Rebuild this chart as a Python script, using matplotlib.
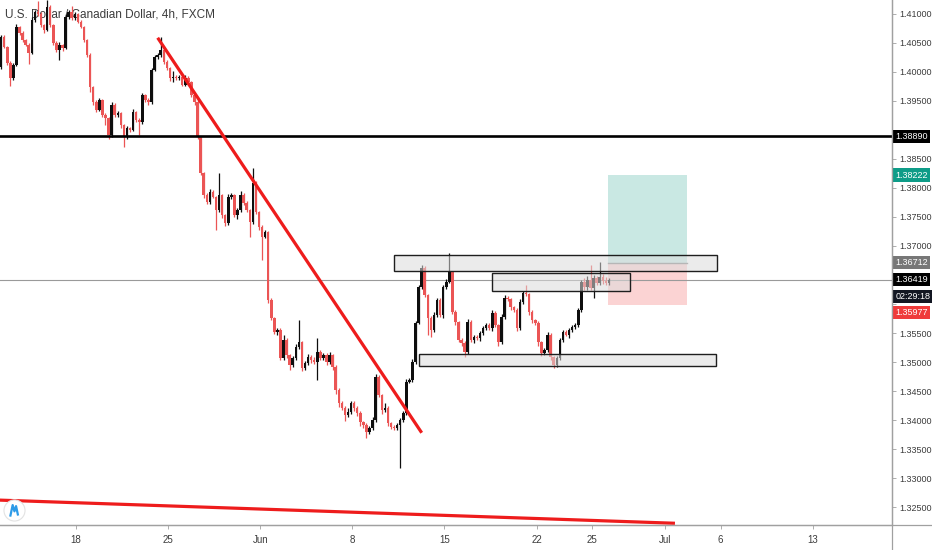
import matplotlib
matplotlib.use("Agg")
import matplotlib.pyplot as plt
import numpy as np
from matplotlib import font_manager
from matplotlib.patches import Rectangle

# ---- data (USDCAD 4h) ----
title = "U.S. Dollar / Canadian Dollar, 4h, FXCM"

first_open = 1.4009
closes = [
    # mid May -> early June
    1.4060, 1.4043, 1.4016, 1.3990, 1.4012, 1.4078, 1.4067, 1.4055, 1.4047, 1.4033,
    1.4090, 1.4103, 1.4100, 1.4081, 1.4072, 1.4112, 1.4081, 1.4050, 1.4038, 1.4047,
    1.4041, 1.4095, 1.4103, 1.4093, 1.4100, 1.4086, 1.4078, 1.4055, 1.4029, 1.3974,
    1.3948, 1.3935, 1.3952, 1.3926, 1.3921, 1.3891, 1.3943, 1.3926, 1.3929, 1.3909,
    1.3888, 1.3903, 1.3900, 1.3931, 1.3917, 1.3914, 1.3960, 1.3952, 1.3948, 1.4003,
    1.4026, 1.4029, 1.4038, 1.4017, 1.4007, 1.3990, 1.3991, 1.3990, 1.3991, 1.3978,
    1.3990, 1.3983, 1.3960, 1.3948, 1.3888, 1.3826, 1.3788, 1.3776, 1.3793, 1.3785,
    1.3762, 1.3788, 1.3753, 1.3740, 1.3785, 1.3788, 1.3753, 1.3762, 1.3788, 1.3774,
    1.3762, 1.3741, 1.3809, 1.3759, 1.3733, 1.3716, 1.3724,
    # June slide and bottom
    1.3607, 1.3576, 1.3552, 1.3555, 1.3507, 1.3538, 1.3512, 1.3495, 1.3507, 1.3526,
    1.3534, 1.3490, 1.3498, 1.3509, 1.3504, 1.3500, 1.3517, 1.3507, 1.3512, 1.3500,
    1.3512, 1.3491, 1.3452, 1.3429, 1.3421, 1.3409, 1.3414, 1.3429, 1.3421, 1.3412,
    1.3397, 1.3391, 1.3379, 1.3386, 1.3400, 1.3474, 1.3443, 1.3417, 1.3421, 1.3395,
    1.3388, 1.3386, 1.3391, 1.3400, 1.3412, 1.3466, 1.3469, 1.3500, 1.3567, 1.3629,
    1.3662,
    # range into late June
    1.3616, 1.3576, 1.3555, 1.3581, 1.3607, 1.3581, 1.3629, 1.3638, 1.3655, 1.3586,
    1.3569, 1.3538, 1.3533, 1.3517, 1.3569, 1.3538, 1.3543, 1.3541, 1.3550, 1.3559,
    1.3564, 1.3559, 1.3585, 1.3564, 1.3534, 1.3578, 1.3610, 1.3608, 1.3595, 1.3590,
    1.3559, 1.3604, 1.3619, 1.3617, 1.3586, 1.3572, 1.3567, 1.3534, 1.3516, 1.3521,
    1.3547, 1.3509, 1.3495, 1.3507, 1.3538, 1.3552, 1.3547, 1.3555, 1.3560, 1.3564,
    1.3590, 1.3638, 1.3629, 1.3641, 1.3628, 1.3645, 1.3636, 1.3647, 1.3640, 1.3636,
    1.36419,
]
# wick lengths beyond the body, in pips
upper_wick = [
    4, 3, 2, 3, 3, 5, 2, 3, 2, 3, 5, 4, 20, 3, 2, 12, 3, 2, 3, 4,
    2, 5, 4, 10, 3, 2, 3, 2, 2, 3, 2, 3, 4, 2, 3, 2, 5, 3, 4, 2,
    2, 4, 3, 5, 2, 3, 4, 2, 3, 4, 3, 4, 22, 2, 3, 2, 10, 3, 4, 2,
    4, 3, 2, 2, 3, 2, 2, 3, 6, 3, 2, 38, 2, 3, 5, 4, 2, 3, 6, 3,
    3, 2, 26, 3, 2, 3, 4,
    2, 3, 2, 4, 3, 8, 3, 2, 4, 5, 38, 3, 4, 5, 3, 4, 24, 3, 4, 3,
    5, 2, 3, 3, 4, 3, 6, 4, 3, 4, 3, 2, 3, 3, 5, 5, 3, 2, 8, 3,
    2, 3, 3, 4, 3, 4, 3, 5, 3, 3, 5,
    3, 2, 4, 5, 3, 4, 3, 5, 33, 2, 3, 2, 3, 3, 6, 3, 4, 3, 4, 3,
    3, 4, 5, 3, 2, 4, 5, 3, 3, 2, 3, 4, 3, 14, 2, 3, 2, 3, 3, 4,
    5, 3, 2, 4, 3, 4, 3, 3, 4, 3, 3, 4, 6, 8, 26, 5, 3, 26, 4, 6,
    3,
]
lower_wick = [
    3, 2, 4, 15, 3, 2, 3, 4, 3, 20, 2, 3, 4, 3, 5, 2, 3, 4, 3, 17,
    4, 2, 3, 3, 4, 2, 3, 4, 3, 8, 5, 4, 3, 4, 12, 6, 3, 4, 3, 5,
    17, 4, 3, 2, 4, 22, 3, 4, 5, 3, 2, 3, 3, 4, 3, 5, 8, 3, 4, 3,
    3, 4, 3, 5, 3, 4, 6, 3, 4, 3, 34, 3, 4, 5, 3, 4, 3, 6, 3, 4,
    3, 25, 3, 4, 5, 40, 3,
    5, 4, 3, 6, 4, 3, 5, 8, 3, 4, 3, 6, 4, 3, 5, 4, 31, 3, 4, 5,
    3, 4, 8, 6, 4, 10, 3, 4, 6, 5, 8, 4, 10, 3, 4, 3, 4, 6, 3, 5,
    4, 3, 4, 74, 3, 4, 3, 4, 3, 2, 3,
    4, 30, 12, 3, 4, 3, 5, 3, 2, 4, 5, 3, 6, 8, 4, 3, 5, 3, 4, 3,
    4, 3, 5, 4, 6, 3, 4, 3, 5, 4, 6, 3, 4, 3, 5, 4, 3, 6, 5, 4,
    3, 6, 5, 4, 3, 4, 3, 5, 4, 3, 4, 3, 4, 5, 3, 17, 4, 3, 5, 4,
    3,
]

date_labels = ["18", "25", "Jun", "8", "15", "22", "25", "Jul", "6", "13"]
date_bars = [24.4, 54.4, 84.4, 114.4, 144.4, 174.4, 192.4, 216.4, 234.4, 264.4]
price_ticks = [1.325, 1.330, 1.335, 1.340, 1.345, 1.350, 1.355, 1.360, 1.365,
               1.370, 1.375, 1.380, 1.385, 1.390, 1.395, 1.400, 1.405, 1.410]
# scale levels hidden behind the coloured price labels
hidden_ticks = [1.360, 1.365, 1.390]

# drawings on the chart
resistance = 1.38890
last_price = 1.36419
countdown = "02:29:18"
trend_bars, trend_prices = [51, 137], [1.4059, 1.3378]
floor_bars, floor_prices = [-1, 219.5], [1.3262, 1.3222]
zone_bars = [(128, 233.2), (159.9, 204.9), (136.1, 232.9)]
zone_prices = [(1.3657, 1.3685), (1.3623, 1.3654), (1.3493, 1.3514)]
entry, target, stop = 1.36712, 1.38222, 1.35977
position_bars = (197.7, 223.4)

# ---- style ----
names = {f.name for f in font_manager.fontManager.ttflist}
FONT = "Liberation Sans Narrow" if "Liberation Sans Narrow" in names else "Liberation Sans"
plt.rcParams["font.family"] = [FONT, "DejaVu Sans"]
TXT = "#3c3c3c"
BULL, BEAR = "#0e0e0e", "#eb5555"
PIP = 0.0001

fig = plt.figure(figsize=(9.32, 5.5), dpi=100)
ax = fig.add_axes([0, 25 / 550, 892 / 932, 525 / 550])
ax.set_xlim(-0.36, 290.2)
ax.set_ylim(1.32190, 1.41241)

# candles
closes = np.array(closes)
opens = np.concatenate([[first_open], closes[:-1]])
tops = np.maximum(opens, closes)
bots = np.minimum(opens, closes)
highs = tops + np.array(upper_wick) * PIP
lows = bots - np.array(lower_wick) * PIP
xs = np.arange(len(closes))
colors = np.where(closes >= opens, BULL, BEAR)
ax.vlines(xs, lows, highs, colors=colors, linewidth=0.9, zorder=3)
ax.bar(xs, np.maximum(tops - bots, 0.0001), bottom=bots, width=0.82,
       color=colors, linewidth=0, zorder=4)

# title behind the candles
ax.text(0.0056, 0.973, title, transform=ax.transAxes, fontsize=8.5, color=TXT,
        va="center", ha="left", zorder=1)

# lines
ax.axhline(resistance, color="black", linewidth=1.9, zorder=5)
ax.axhline(last_price, color="#9a9a9a", linewidth=0.8, zorder=2)
ax.plot(trend_bars, trend_prices, color="#ee1c1c", linewidth=2.3,
        solid_capstyle="butt", zorder=6)
ax.plot(floor_bars, floor_prices, color="#ee1c1c", linewidth=2.3,
        solid_capstyle="butt", zorder=6)

# long position tool
x0, x1 = position_bars
ax.add_patch(Rectangle((x0, entry), x1 - x0, target - entry,
                       facecolor="#c9e8e3", edgecolor="none", zorder=1))
ax.add_patch(Rectangle((x0, stop), x1 - x0, entry - stop,
                       facecolor="#fbd3d3", edgecolor="none", zorder=1))
ax.plot([x0, x1], [entry, entry], color="#8a8a8a", linewidth=1.0, zorder=2)

# supply / demand zones
for (b0, b1), (p0, p1) in zip(zone_bars, zone_prices):
    ax.add_patch(Rectangle((b0, p0), b1 - b0, p1 - p0, facecolor="#dcdcdc",
                           alpha=0.55, edgecolor="none", zorder=5))
    ax.add_patch(Rectangle((b0, p0), b1 - b0, p1 - p0, facecolor="none",
                           edgecolor="#1e1e1e", linewidth=1.0, zorder=5))

# axes
for side in ("left", "top"):
    ax.spines[side].set_visible(False)
for side in ("right", "bottom"):
    ax.spines[side].set_color("#a0a0a0")
    ax.spines[side].set_linewidth(0.9)
ax.yaxis.tick_right()
ax.set_yticks(price_ticks)
ax.set_yticklabels(["" if p in hidden_ticks else f"{p:.5f}" for p in price_ticks])
ax.tick_params(axis="y", length=3, width=0.6, color="#a0a0a0", labelsize=6.5,
               labelcolor=TXT, pad=2)
ax.set_xticks(date_bars)
ax.set_xticklabels(date_labels)
ax.tick_params(axis="x", length=3, width=0.6, color="#a0a0a0", labelsize=7,
               labelcolor=TXT, pad=4)

# price labels on the scale
ytr = ax.get_yaxis_transform()


def scale_label(price, text, face, shift=0):
    ax.annotate(text, xy=(1.0, price), xycoords=ytr, xytext=(2.6, shift),
                textcoords="offset points", ha="left", va="center",
                fontsize=6.5, color="white", annotation_clip=False, zorder=10,
                bbox=dict(boxstyle="square,pad=0.25", fc=face, ec="none"))


scale_label(resistance, "1.38890", "black")
scale_label(target, "1.38222", "#0e9c88")
scale_label(entry, "1.36712", "#777777")
scale_label(last_price, "1.36419", "black")
scale_label(last_price, countdown, "#131722", shift=-12)
scale_label(stop, "1.35977", "#ef3b3b", shift=-5)

# extend axis lines to the figure edges
fig.add_artist(plt.Line2D([892 / 932, 892 / 932], [0, 1], color="#a0a0a0",
                          linewidth=0.9, transform=fig.transFigure))
fig.add_artist(plt.Line2D([0, 1], [25 / 550, 25 / 550], color="#a0a0a0",
                          linewidth=0.9, transform=fig.transFigure))

# logo badge bottom-left
ax.scatter([0.0157], [0.0286], s=230, transform=ax.transAxes, facecolor="white",
           edgecolor="#e2e2e2", linewidth=0.8, zorder=11, clip_on=False)
ax.plot([0.0117, 0.0142, 0.0162, 0.0180, 0.0200], [0.018, 0.038, 0.026, 0.036, 0.020],
        transform=ax.transAxes, color="#2d9be8", linewidth=1.6, zorder=12,
        solid_joinstyle="round")

fig.savefig("out.png", dpi=100, facecolor="white")
